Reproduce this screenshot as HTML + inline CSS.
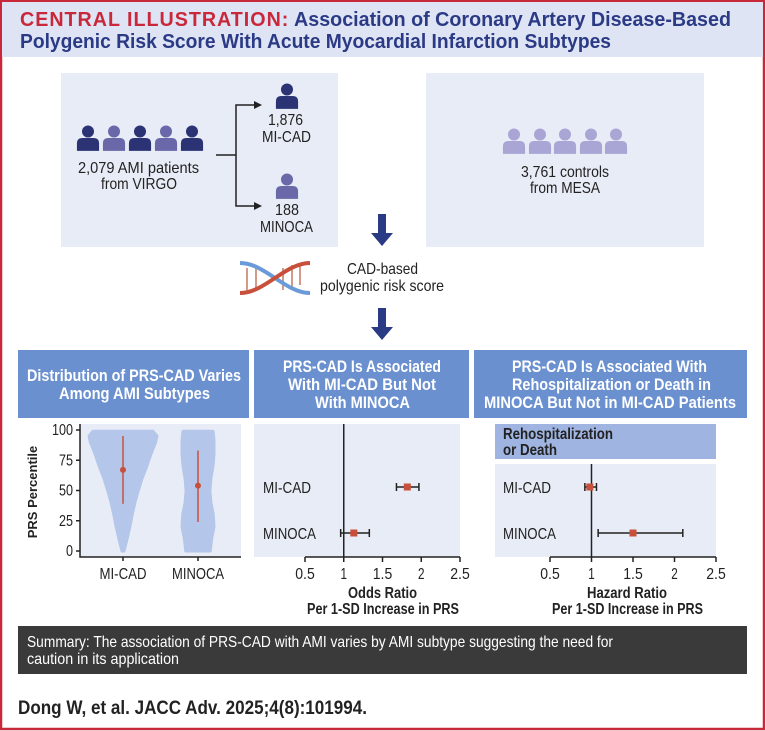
<!DOCTYPE html>
<html><head><meta charset="utf-8">
<style>
html,body{margin:0;padding:0;background:#fff;}
svg{display:block;font-family:"Liberation Sans",sans-serif;}
</style></head>
<body>
<svg id="fig" width="765" height="731" viewBox="0 0 765 731" xmlns="http://www.w3.org/2000/svg">
<defs>
<symbol id="person" viewBox="0 0 26 28"><circle cx="13" cy="7" r="6.5"/><path d="M1 28 V20 Q1 14 7 14 H19 Q25 14 25 20 V28 Z"/></symbol>
</defs>
<rect x="1" y="1" width="763" height="728" fill="none" stroke="#c8283a" stroke-width="2.5"/>
<rect x="2" y="2" width="761" height="55" fill="#dfe4f4"/>
<text x="20" y="26" font-size="20" font-weight="bold" textLength="711" lengthAdjust="spacingAndGlyphs"><tspan fill="#c8283a" letter-spacing="1">CENTRAL ILLUSTRATION:</tspan><tspan fill="#2b3a85"> Association of Coronary Artery Disease-Based</tspan></text>
<text x="20" y="48" font-size="20" font-weight="bold" fill="#2b3a85" textLength="591" lengthAdjust="spacingAndGlyphs">Polygenic Risk Score With Acute Myocardial Infarction Subtypes</text>

<rect x="61" y="73" width="277" height="174" fill="#e8ecf6"/>
<rect x="426" y="73" width="278" height="174" fill="#e8ecf6"/>
<g>
<use href="#person" x="76" y="124" width="24" height="28" fill="#2b3374"/>
<use href="#person" x="102" y="124" width="24" height="28" fill="#6a68a8"/>
<use href="#person" x="128" y="124" width="24" height="28" fill="#2b3374"/>
<use href="#person" x="154" y="124" width="24" height="28" fill="#6a68a8"/>
<use href="#person" x="180" y="124" width="24" height="28" fill="#2b3374"/>
</g>
<g font-size="16" fill="#222" lengthAdjust="spacingAndGlyphs">
<text x="78" y="173" textLength="121" lengthAdjust="spacingAndGlyphs">2,079 AMI patients</text>
<text x="101" y="189" textLength="76" lengthAdjust="spacingAndGlyphs">from VIRGO</text>
<text x="268" y="125" textLength="35" lengthAdjust="spacingAndGlyphs">1,876</text>
<text x="262" y="142" textLength="49" lengthAdjust="spacingAndGlyphs">MI-CAD</text>
<text x="275" y="215" textLength="24" lengthAdjust="spacingAndGlyphs">188</text>
<text x="260" y="232" textLength="53" lengthAdjust="spacingAndGlyphs">MINOCA</text>
<text x="521" y="177" textLength="88" lengthAdjust="spacingAndGlyphs">3,761 controls</text>
<text x="530" y="193" textLength="70" lengthAdjust="spacingAndGlyphs">from MESA</text>
<text x="347" y="274" textLength="71" lengthAdjust="spacingAndGlyphs">CAD-based</text>
<text x="320" y="291" textLength="124" lengthAdjust="spacingAndGlyphs">polygenic risk score</text>
</g>
<g>
<path d="M216 155 H236 M256 105 H236 V206 H256" stroke="#222" stroke-width="1.5" fill="none"/>
<path d="M254 101 L262 105 L254 109 Z M254 202 L262 206 L254 210 Z" fill="#222"/>
</g>
<use href="#person" x="275" y="82" width="24" height="28" fill="#2b3374"/>
<use href="#person" x="275" y="172" width="24" height="28" fill="#6a68a8"/>
<g fill="#a9a5d4">
<use href="#person" x="502" y="127" width="24" height="28"/>
<use href="#person" x="528" y="127" width="24" height="28"/>
<use href="#person" x="553" y="127" width="24" height="28"/>
<use href="#person" x="579" y="127" width="24" height="28"/>
<use href="#person" x="604" y="127" width="24" height="28"/>
</g>
<path d="M378 214 H386 V233 H393 L382 246 L371 233 H378 Z" fill="#2b3a85"/>
<g stroke-width="4" fill="none">
<g stroke="#d49a88" stroke-width="2"><path d="M247 268 V290"/><path d="M256 268 V290"/><path d="M283 268 V290"/><path d="M292 265 V290"/><path d="M300 265 V285"/></g>
<path d="M240 263 C265 263 285 293 310 293" stroke="#6a9ad8"/>
<path d="M240 293 C265 293 285 263 310 263" stroke="#c8503a"/>
</g>
<path d="M378 308 H386 V327 H393 L382 340 L371 327 H378 Z" fill="#2b3a85"/>

<g fill="#6b90cf">
<rect x="18" y="350" width="231" height="68"/><rect x="254" y="350" width="215" height="68"/><rect x="474" y="350" width="273" height="68"/>
</g>
<g fill="#fff" font-size="17" font-weight="bold">
<text x="27" y="381" textLength="214" lengthAdjust="spacingAndGlyphs">Distribution of PRS-CAD Varies</text>
<text x="59" y="399" textLength="151" lengthAdjust="spacingAndGlyphs">Among AMI Subtypes</text>
<text x="283" y="372" textLength="158" lengthAdjust="spacingAndGlyphs">PRS-CAD Is Associated</text>
<text x="288" y="390" textLength="148" lengthAdjust="spacingAndGlyphs">With MI-CAD But Not</text>
<text x="315" y="408" textLength="95" lengthAdjust="spacingAndGlyphs">With MINOCA</text>
<text x="512" y="372" textLength="195" lengthAdjust="spacingAndGlyphs">PRS-CAD Is Associated With</text>
<text x="512" y="390" textLength="199" lengthAdjust="spacingAndGlyphs">Rehospitalization or Death in</text>
<text x="484" y="408" textLength="252" lengthAdjust="spacingAndGlyphs">MINOCA But Not in MI-CAD Patients</text>
</g>

<rect x="80" y="424" width="161" height="133" fill="#e8ecf6"/>
<g id="violin"></g>
<text transform="translate(37,492) rotate(-90)" font-size="13" font-weight="bold" text-anchor="middle" fill="#222">PRS Percentile</text>

<rect x="254" y="424" width="206" height="133" fill="#e8ecf6"/>
<g id="forest1"></g>
<text x="348" y="598" font-size="16" font-weight="bold" fill="#222" textLength="69" lengthAdjust="spacingAndGlyphs">Odds Ratio</text>
<text x="307" y="614" font-size="16" font-weight="bold" fill="#222" textLength="152" lengthAdjust="spacingAndGlyphs">Per 1-SD Increase in PRS</text>

<rect x="495" y="424" width="221" height="35" fill="#9fb4e0"/>
<text x="503" y="439" font-size="16" font-weight="bold" fill="#222" textLength="110" lengthAdjust="spacingAndGlyphs">Rehospitalization</text>
<text x="503" y="455" font-size="16" font-weight="bold" fill="#222" textLength="54" lengthAdjust="spacingAndGlyphs">or Death</text>
<rect x="495" y="464" width="221" height="93" fill="#e8ecf6"/>
<g id="forest2"></g>
<text x="587" y="598" font-size="16" font-weight="bold" fill="#222" textLength="80" lengthAdjust="spacingAndGlyphs">Hazard Ratio</text>
<text x="552" y="614" font-size="16" font-weight="bold" fill="#222" textLength="151" lengthAdjust="spacingAndGlyphs">Per 1-SD Increase in PRS</text>

<rect x="18" y="626" width="729" height="48" fill="#3a3a3a"/>
<text x="27" y="647" font-size="16" fill="#fff" textLength="586" lengthAdjust="spacingAndGlyphs">Summary: The association of PRS-CAD with AMI varies by AMI subtype suggesting the need for</text>
<text x="27" y="664" font-size="16" fill="#fff" textLength="152" lengthAdjust="spacingAndGlyphs">caution in its application</text>
<text x="18" y="714" font-size="19" font-weight="bold" fill="#222" textLength="349" lengthAdjust="spacingAndGlyphs">Dong W, et al. JACC Adv. 2025;4(8):101994.</text>
</svg>
<script>
// Violin data
const violinCats = ["MI-CAD", "MINOCA"];
const densityLevels = [0, 10, 20, 30, 40, 50, 60, 70, 80, 90, 95, 99];
const densityMICAD = [0.03, 0.12, 0.2, 0.27, 0.35, 0.45, 0.56, 0.7, 0.82, 0.96, 1.0, 0.88];
const densityMINOCA = [0.36, 0.4, 0.47, 0.45, 0.38, 0.35, 0.38, 0.44, 0.47, 0.47, 0.46, 0.44];
const medians = [67, 54];
const lowerQ = [39, 24];
const upperQ = [95, 83];
const yTicks = [0, 25, 50, 75, 100];
// Forest data
const forestCats = ["MI-CAD", "MINOCA"];
const orVals = [1.82, 1.13];
const orLow = [1.68, 0.96];
const orHigh = [1.97, 1.33];
const hrVals = [0.98, 1.50];
const hrLow = [0.92, 1.08];
const hrHigh = [1.06, 2.10];
const xTicks = [0.5, 1, 1.5, 2, 2.5];
const xTickLabels = ["0.5", "1", "1.5", "2", "2.5"];

const NS = "http://www.w3.org/2000/svg";
function mk(parent, tag, attrs, txt) {
  const e = document.createElementNS(NS, tag);
  for (const k in attrs) e.setAttribute(k, attrs[k]);
  if (txt !== undefined) e.textContent = txt;
  parent.appendChild(e); return e;
}
function narrow(el, w) {
  el.setAttribute("textLength", w);
  el.setAttribute("lengthAdjust", "spacingAndGlyphs");
}
(function () {
  const g = document.getElementById("violin");
  const y = v => 551 - (v / 100) * 121;
  const xc = i => 123 + i * 75;
  const maxHalf = 34;
  const dens = [densityMICAD, densityMINOCA];
  violinCats.forEach((c, i) => {
    const left = [], right = [];
    densityLevels.forEach((lv, j) => {
      const h = dens[i][j] * maxHalf;
      right.push((xc(i) + h) + " " + y(lv));
      left.unshift((xc(i) - h) + " " + y(lv));
    });
    const p = mk(g, "path", { d: "M" + right.join(" L") + " L" + left.join(" L") + " Z", fill: "#b4c6e9", stroke: "#b4c6e9", "stroke-width": 3, "stroke-linejoin": "round" });
    
    
    const l = mk(g, "line", { x1: xc(i), x2: xc(i), y1: y(lowerQ[i]), y2: y(upperQ[i]), stroke: "#c8503a", "stroke-width": 1.5 });
    
    
    const d = mk(g, "circle", { cx: xc(i), cy: y(medians[i]), r: 3, fill: "#c8503a" });
    
    
    const t = mk(g, "text", { x: xc(i), y: 579, "font-size": 16, "text-anchor": "middle", fill: "#222" }, c);
    narrow(t, i === 0 ? 47 : 52);
    
    
    mk(g, "line", { x1: xc(i), x2: xc(i), y1: 557, y2: 561, stroke: "#222", "stroke-width": 1.5 });
  });
  const ax = mk(g, "path", { d: "M80 424 V557 H241", fill: "none", stroke: "#222", "stroke-width": 1.5 });
  
  
  yTicks.forEach(v => {
    mk(g, "line", { x1: 76, x2: 80, y1: y(v), y2: y(v), stroke: "#222", "stroke-width": 1.5 });
    const t = mk(g, "text", { x: 73, y: y(v) + 5, "font-size": 16, "text-anchor": "end", fill: "#222" }, String(v));
    narrow(t, String(v).length * 7);
    
    
  });
})();
function forest(id, x0, x1, vals, lo, hi, ytop, prefix, labelX) {
  const g = document.getElementById(id);
  const x = v => x0 + (v - 0.5) / 2 * (x1 - x0);
  const rowY = [487, 533];
  mk(g, "line", { x1: x(1), x2: x(1), y1: ytop, y2: 557, stroke: "#222", "stroke-width": 1.5 });
  mk(g, "line", { x1: x0, x2: x1, y1: 557, y2: 557, stroke: "#222", "stroke-width": 1.5 });
  xTicks.forEach((v, k) => {
    mk(g, "line", { x1: x(v), x2: x(v), y1: 557, y2: 562, stroke: "#222", "stroke-width": 1.5 });
    const t = mk(g, "text", { x: x(v), y: 579, "font-size": 16, "text-anchor": "middle", fill: "#222" }, xTickLabels[k]);
    narrow(t, xTickLabels[k].length * 6.5);
    
    
  });
  forestCats.forEach((c, i) => {
    const yy = rowY[i];
    const t = mk(g, "text", { x: labelX, y: yy + 6, "font-size": 16, fill: "#222" }, c);
    narrow(t, i === 0 ? 48 : 53);
    
    
    const ci = mk(g, "path", { d: `M${x(lo[i])} ${yy} H${x(hi[i])} M${x(lo[i])} ${yy - 4} V${yy + 4} M${x(hi[i])} ${yy - 4} V${yy + 4}`, stroke: "#222", "stroke-width": 1.5, fill: "none" });
    
    
    const s = mk(g, "rect", { x: x(vals[i]) - 3.5, y: yy - 3.5, width: 7, height: 7, fill: "#c8503a" });
    
    
  });
}
forest("forest1", 305, 460, orVals, orLow, orHigh, 424, "or", 263);
forest("forest2", 550, 716, hrVals, hrLow, hrHigh, 464, "hr", 503);
</script>
</body></html>
